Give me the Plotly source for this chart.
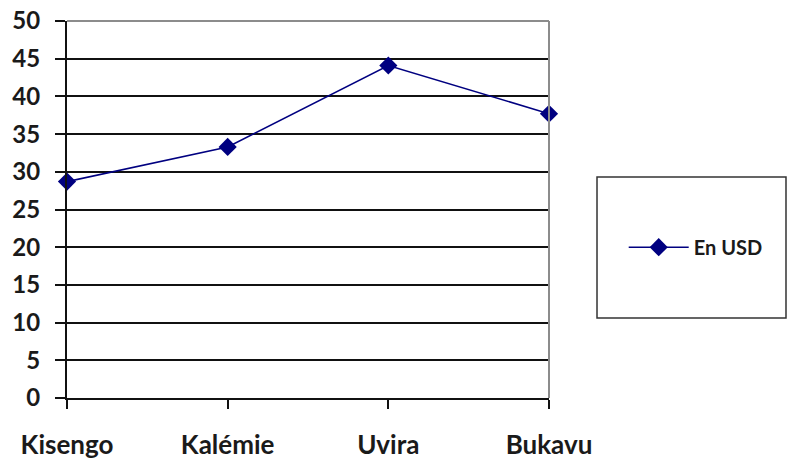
import plotly.graph_objects as go

# Average price per town, in US dollars
towns = ["Kisengo", "Kalémie", "Uvira", "Bukavu"]
prices_usd = [28.7, 33.3, 44.1, 37.7]
y_ticks = [0, 5, 10, 15, 20, 25, 30, 35, 40, 45, 50]

NAVY = "#000080"
FONT = "Lato, Calibri, Arial, sans-serif"

fig = go.Figure()
fig.add_trace(go.Scatter(
    x=towns,
    y=prices_usd,
    mode="lines+markers",
    name="En USD",
    line=dict(color=NAVY, width=1.6),
    marker=dict(symbol="diamond", size=14, color=NAVY),
    cliponaxis=False,
))

fig.update_layout(
    width=787,
    height=459,
    margin=dict(l=67, r=238, t=21, b=61),
    paper_bgcolor="white",
    plot_bgcolor="white",
    font=dict(family=FONT, color="#1a1a1a"),
    showlegend=True,
    legend=dict(
        x=1.155, y=0.40, xanchor="left", yanchor="middle",
        bgcolor="rgba(0,0,0,0)", borderwidth=0,
        font=dict(size=20, family=FONT, weight="bold"),
        itemwidth=60,
    ),
    xaxis=dict(
        type="category",
        range=[0, 3],
        automargin=False,
        showgrid=False,
        showline=True, linecolor="#111", linewidth=2,
        ticks="outside", ticklen=9, tickwidth=2, tickcolor="#111",
        tickfont=dict(size=26, family=FONT, weight="bold", color="#1a1a1a"),
        ticklabelstandoff=14,
        zeroline=False,
    ),
    yaxis=dict(
        range=[0, 50],
        tickvals=y_ticks,
        automargin=False,
        showgrid=True, gridcolor="#111", gridwidth=2,
        showline=True, linecolor="#111", linewidth=2,
        ticks="outside", ticklen=10, tickwidth=2, tickcolor="#111",
        tickfont=dict(size=24, family=FONT, weight="bold", color="#1a1a1a"),
        ticklabelstandoff=10,
        zeroline=False,
    ),
    shapes=[
        # grey frame along the top and right of the plotting area
        dict(type="line", xref="paper", yref="paper", x0=0, x1=1, y0=1, y1=1,
             line=dict(color="#8c8c8c", width=2), layer="above"),
        dict(type="line", xref="paper", yref="paper", x0=1, x1=1, y0=0, y1=1,
             line=dict(color="#8c8c8c", width=2), layer="above"),
        # legend box
        dict(type="rect", xref="paper", yref="paper",
             x0=1.0996, x1=1.4917, y0=0.212, y1=0.586,
             line=dict(color="#333", width=1.5), fillcolor="rgba(0,0,0,0)"),
    ],
)

fig.write_html("out.html")
